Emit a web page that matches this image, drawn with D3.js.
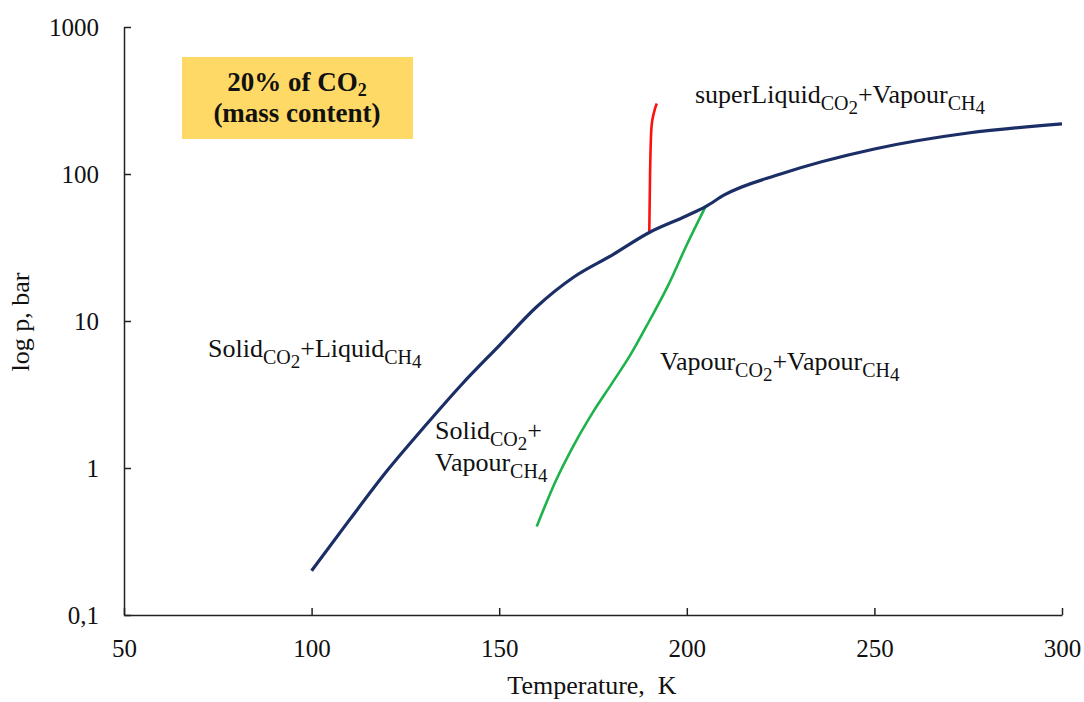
<!DOCTYPE html>
<html>
<head>
<meta charset="utf-8">
<script src="https://cdn.jsdelivr.net/npm/d3@7"></script>
<style>
  body { margin: 0; background: #fff; }
</style>
</head>
<body>
<div id="chart"></div>
<script>
// phase boundaries (T in K, p in bar)
const blueT = [100, 110, 120, 130, 140, 150, 160, 170, 180, 190, 200, 205, 210, 225, 250, 275, 300];
const blueP = [0.2, 0.44, 0.95, 1.9, 3.7, 6.8, 12.5, 20, 28, 40, 52, 60, 72, 100, 148, 190, 219];
const redT = [190, 190.2, 190.6, 191.2, 192];
const redP = [40, 96, 210, 259, 302];
const greenT = [160, 165, 170, 175, 180, 185, 190, 195, 200, 205];
const greenP = [0.4, 0.81, 1.45, 2.4, 3.75, 5.9, 10, 17.4, 33, 60];

const xTicks = [50, 100, 150, 200, 250, 300];
const yTicks = [0.1, 1, 10, 100, 1000];
const yTickLabels = ["0,1", "1", "10", "100", "1000"];

const FONT = "Liberation Serif";
const width = 1084, height = 702;
const svg = d3.select("#chart").append("svg")
    .attr("width", width)
    .attr("height", height);

const x = d3.scaleLinear().domain([50, 300]).range([124, 1062]);
const y = d3.scaleLog().domain([0.1, 1000]).range([615, 27]);

// axes
const xAxis = svg.append("g")
    .attr("transform", "translate(0,615)")
    .call(d3.axisBottom(x).tickValues(xTicks).tickSize(-7).tickSizeOuter(0).tickPadding(24));
const yAxis = svg.append("g")
    .attr("transform", "translate(124,0)")
    .call(d3.axisLeft(y).tickValues(yTicks).tickSize(-7).tickSizeOuter(0).tickPadding(25)
        .tickFormat((d, i) => yTickLabels[i]));

[xAxis, yAxis].forEach(a => {
    a.attr("font-family", FONT).attr("font-size", 25);
    a.selectAll("path, line").attr("stroke", "#222").attr("stroke-width", 1.5);
    a.selectAll("text").attr("fill", "#111");
});

svg.append("text")
    .attr("x", 592).attr("y", 694)
    .attr("text-anchor", "middle")
    .attr("font-family", FONT)
    .attr("font-size", 26)
    .attr("fill", "#111")
    .attr("xml:space", "preserve")
    .text("Temperature,  K");

svg.append("text")
    .attr("transform", "translate(29,322) rotate(-90)")
    .attr("text-anchor", "middle")
    .attr("font-family", FONT)
    .attr("font-size", 26)
    .attr("fill", "#111")
    .text("log p, bar");

// curves
function drawLine(ts, ps, color, w) {
    const pts = ts.map((t, i) => [t, ps[i]]);
    svg.append("path")
        .datum(pts)
        .attr("fill", "none")
        .attr("stroke", color)
        .attr("stroke-width", w)
        .attr("d", d3.line().x(d => x(d[0])).y(d => y(d[1])).curve(d3.curveMonotoneX));
}
drawLine(greenT, greenP, "#1DB34A", 2.6);
drawLine(redT, redP, "#FF1010", 2.6);
drawLine(blueT, blueP, "#1B2F66", 3.2);

// box
svg.append("rect")
    .attr("x", 182).attr("y", 57)
    .attr("width", 231).attr("height", 82)
    .attr("fill", "#FFD966");

const boxText = svg.append("text")
    .attr("x", 297).attr("y", 91)
    .attr("text-anchor", "middle")
    .attr("fill", "#111")
    .attr("font-family", FONT)
    .attr("font-size", 27)
    .attr("font-weight", "bold");
boxText.append("tspan").text("20% of CO");
boxText.append("tspan").attr("dy", 5).attr("font-size", 18).text("2");

svg.append("text")
    .attr("x", 297).attr("y", 122)
    .attr("text-anchor", "middle")
    .attr("fill", "#111")
    .attr("font-family", FONT)
    .attr("font-size", 27)
    .attr("font-weight", "bold")
    .text("(mass content)");

// region labels with subscripts
function label(px, py, parts) {
    const t = svg.append("text").attr("x", px).attr("y", py)
        .attr("fill", "#111")
        .attr("font-family", FONT)
        .attr("font-size", 26);
    let off = 0;
    parts.forEach(p => {
        const target = p.sub === 1 ? 7 : p.sub === 2 ? 11 : 0;
        const size = p.sub === 1 ? 20 : p.sub === 2 ? 19 : 26;
        t.append("tspan")
            .attr("dy", target - off)
            .attr("font-size", size)
            .text(p.t);
        off = target;
    });
}

label(208, 357, [{ t: "Solid" }, { t: "CO", sub: 1 }, { t: "2", sub: 2 }, { t: "+Liquid" }, { t: "CH", sub: 1 }, { t: "4", sub: 2 }]);
label(435, 439, [{ t: "Solid" }, { t: "CO", sub: 1 }, { t: "2", sub: 2 }, { t: "+" }]);
label(435, 471, [{ t: "Vapour" }, { t: "CH", sub: 1 }, { t: "4", sub: 2 }]);
label(660, 370, [{ t: "Vapour" }, { t: "CO", sub: 1 }, { t: "2", sub: 2 }, { t: "+Vapour" }, { t: "CH", sub: 1 }, { t: "4", sub: 2 }]);
label(695, 103, [{ t: "superLiquid" }, { t: "CO", sub: 1 }, { t: "2", sub: 2 }, { t: "+Vapour" }, { t: "CH", sub: 1 }, { t: "4", sub: 2 }]);
</script>
</body>
</html>
